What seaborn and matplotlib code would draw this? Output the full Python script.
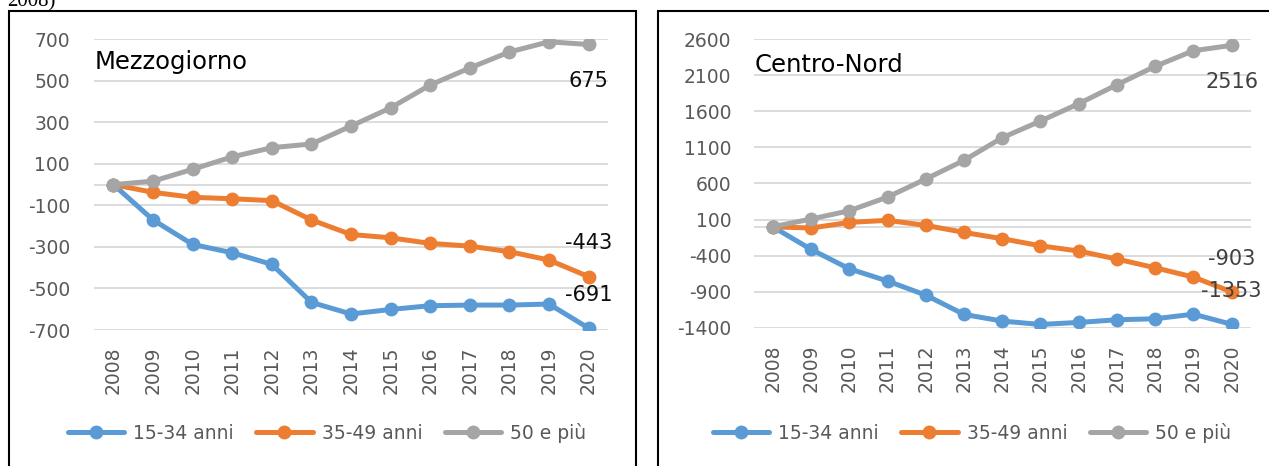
import matplotlib
matplotlib.use("Agg")
import matplotlib.pyplot as plt
import seaborn as sns
import pandas as pd
from matplotlib.patches import Rectangle

# ---------------- data ----------------
years = list(range(2008, 2021))
series_names = ["15-34 anni", "35-49 anni", "50 e più"]
colors = ["#5B9BD5", "#ED7D31", "#A5A5A5"]

mezzo_1534 = [0, -170, -288, -328, -384, -567, -623, -601, -583, -580, -580, -575, -691]
mezzo_3549 = [0, -37, -61, -68, -77, -170, -240, -256, -283, -296, -323, -363, -443]
mezzo_50 = [0, 17, 74, 134, 178, 196, 282, 370, 480, 562, 639, 688, 675]

cn_1534 = [0, -314, -583, -753, -948, -1216, -1308, -1355, -1327, -1290, -1276, -1212, -1353]
cn_3549 = [0, -18, 61, 89, 19, -78, -166, -264, -337, -448, -569, -698, -903]
cn_50 = [0, 107, 222, 412, 662, 921, 1235, 1466, 1707, 1970, 2225, 2442, 2516]

mezzo_ticks = [-700, -500, -300, -100, 100, 300, 500, 700]
cn_ticks = [-1400, -900, -400, 100, 600, 1100, 1600, 2100, 2600]

panels = [
    dict(title="Mezzogiorno", series=[mezzo_1534, mezzo_3549, mezzo_50], ticks=mezzo_ticks,
         ylim=(-700, 700), rect=[93.7, 39.3, 608.4, 330.0], title_y=0.922,
         lab_color="#0D0D0D", legend_cx=327, ylabelpad=17),
    dict(title="Centro-Nord", series=[cn_1534, cn_3549, cn_50], ticks=cn_ticks,
         ylim=(-1400, 2600), rect=[753.7, 39.3, 1250.8, 327.7], title_y=0.911,
         lab_color="#404040", legend_cx=972, ylabelpad=16),
]

W, H = 1269, 466
sns.set_theme(style="white")
plt.rcParams["font.family"] = ["DejaVu Sans"]
plt.rcParams["axes.unicode_minus"] = False

fig = plt.figure(figsize=(W / 100, H / 100), dpi=100)
fig.patch.set_facecolor("white")

# panel frames
fig.add_artist(Rectangle((8.7 / W, -0.1), (636.5 - 8.7) / W, 1.1 - 11 / H, transform=fig.transFigure,
                         fill=False, edgecolor="black", linewidth=1.5))
fig.add_artist(Rectangle((657.5 / W, -0.1), 0.5, 1.1 - 11 / H, transform=fig.transFigure,
                         fill=False, edgecolor="black", linewidth=1.5))
# caption text partly cut by the top edge, as in the reference
fig.text(7 / W, 1 - 6.5 / H, "2008)", family="Liberation Serif", fontsize=15,
         ha="left", va="baseline", color="black")

for p in panels:
    x0, y0, x1, y1 = p["rect"]
    ax = fig.add_axes([x0 / W, 1 - y1 / H, (x1 - x0) / W, (y1 - y0) / H])
    ax.set_facecolor("none")

    df = pd.DataFrame({
        "year": years * 3,
        "value": p["series"][0] + p["series"][1] + p["series"][2],
        "series": sum([[n] * len(years) for n in series_names], []),
    })

    for yv in p["ticks"] + [0]:
        ax.axhline(yv, color="#D9D9D9", linewidth=1.3, zorder=0)

    sns.lineplot(data=df, x="year", y="value", hue="series", style="series",
                 hue_order=series_names, style_order=series_names,
                 palette=colors, markers=["o", "o", "o"], dashes=False,
                 linewidth=3.6, markersize=10, markeredgewidth=0, ax=ax, legend=True, zorder=3)

    ax.set_xlim(2007.5, 2020.5)
    ax.set_ylim(*p["ylim"])
    ax.set_yticks(p["ticks"])
    ax.set_xticks(years)
    ax.set_xticklabels([str(y) for y in years], rotation=90)
    ax.set_xlabel("")
    ax.set_ylabel("")
    for s in ax.spines.values():
        s.set_visible(False)
    ax.tick_params(axis="y", length=0, pad=p["ylabelpad"], labelsize=13.5, labelcolor="#595959")
    ax.tick_params(axis="x", length=0, pad=12, labelsize=13.5, labelcolor="#595959")
    ax.grid(False)

    ax.text(0.002, p["title_y"], p["title"], transform=ax.transAxes, ha="left", va="center",
            fontsize=17.5, color="black")

    # data labels on last points
    last = [s[-1] for s in p["series"]]
    offsets = [24, 24, -26.5]
    for v, off in zip(last, offsets):
        ax.annotate(f"{v}", xy=(years[-1], v), xytext=(0, off), textcoords="offset points",
                    ha="center", va="center", fontsize=15, color=p["lab_color"], zorder=5)

    handles, labels = ax.get_legend_handles_labels()
    leg = ax.legend(handles, labels, loc="center", bbox_to_anchor=(p["legend_cx"] / W, 1 - 433 / H),
                    bbox_transform=fig.transFigure, ncol=3, frameon=False, fontsize=13.5,
                    handlelength=3.0, handletextpad=0.48, columnspacing=1.2,
                    borderpad=0, borderaxespad=0)
    for h in leg.legend_handles:
        h.set_linewidth(3.6)
        h.set_markersize(10)
        h.set_markeredgewidth(0)
    for t in leg.get_texts():
        t.set_color("#595959")

fig.savefig("out.png", dpi=100, facecolor="white")
